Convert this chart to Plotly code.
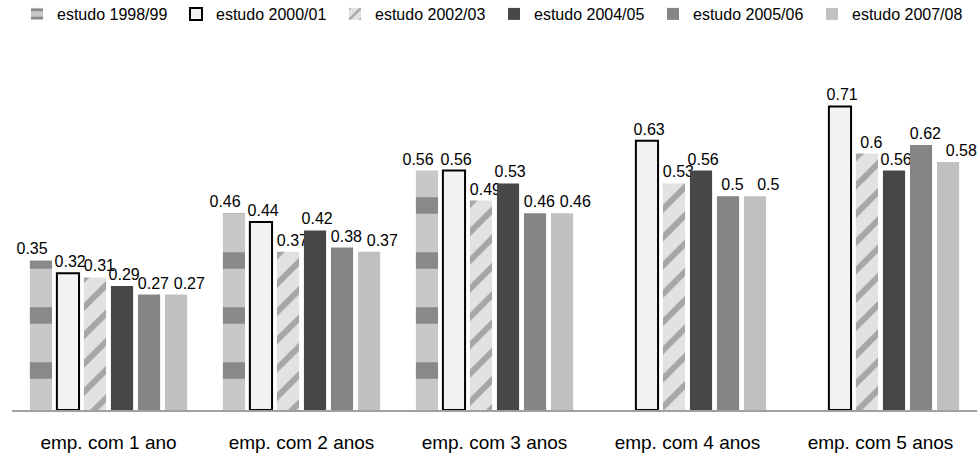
import plotly.graph_objects as go

categories = ["emp. com 1 ano", "emp. com 2 anos", "emp. com 3 anos", "emp. com 4 anos", "emp. com 5 anos"]
series_names = ["estudo 1998/99", "estudo 2000/01", "estudo 2002/03", "estudo 2004/05", "estudo 2005/06", "estudo 2007/08"]
v1998 = [0.35, 0.46, 0.56, None, None]
v2000 = [0.32, 0.44, 0.56, 0.63, 0.71]
v2002 = [0.31, 0.37, 0.49, 0.53, 0.60]
v2004 = [0.29, 0.42, 0.53, 0.56, 0.56]
v2005 = [0.27, 0.38, 0.46, 0.50, 0.62]
v2007 = [0.27, 0.37, 0.46, 0.50, 0.58]
values = [v1998, v2000, v2002, v2004, v2005, v2007]

FONT = "Liberation Sans, Arial, sans-serif"
NB = "\u00a0"
# (leading, trailing) non-breaking spaces to nudge labels sideways like the reference
label_pad = [(0, 4), (1, 0), (2, 0), (1, 0), (2, 0), (6, 0)]

styles = [
    dict(color="#b4b4b4", line=dict(width=0),
         pattern=dict(shape="-", fgcolor="#4a4a4a", bgcolor="#c8c8c8", size=55, solidity=0.3)),
    dict(color="#f2f2f2", line=dict(color="#000000", width=2)),
    dict(color="#d0d0d0", line=dict(width=0),
         pattern=dict(shape="/", fgcolor="#6a6a6a", bgcolor="#e2e2e2", size=20, solidity=0.3)),
    dict(color="#474747", line=dict(width=0)),
    dict(color="#858585", line=dict(width=0)),
    dict(color="#c0c0c0", line=dict(width=0)),
]

fig = go.Figure()
for name, vals, st, (lp, tp) in zip(series_names, values, styles, label_pad):
    fig.add_trace(go.Bar(
        x=categories, y=vals, name=name, marker=st,
        text=[("" if v is None else NB * lp + f"{v:g}" + NB * tp) for v in vals],
        textposition="outside", cliponaxis=False, constraintext="none",
        textfont=dict(family=FONT, size=16, color="#000000"),
    ))

fig.update_layout(
    width=977, height=458,
    margin=dict(l=12, r=0, t=68, b=48),
    paper_bgcolor="white", plot_bgcolor="white",
    barmode="group", bargap=0.16, bargroupgap=0.18,
    font=dict(family=FONT, color="#000000"),
    showlegend=True,
    legend=dict(orientation="h", xref="container", yref="container",
                x=17 / 977, y=1 - 14 / 458, xanchor="left", yanchor="middle",
                entrywidth=114, entrywidthmode="pixels",
                font=dict(family=FONT, size=16, color="#000000"),
                traceorder="normal"),
)
fig.update_xaxes(showline=True, linecolor="#a0a0a0", linewidth=2, ticks="",
                 tickfont=dict(family=FONT, size=19, color="#000000"),
                 ticklabelstandoff=14)
fig.update_yaxes(range=[0, 0.8], visible=False, showgrid=False, zeroline=False)

fig.write_html("out.html")
